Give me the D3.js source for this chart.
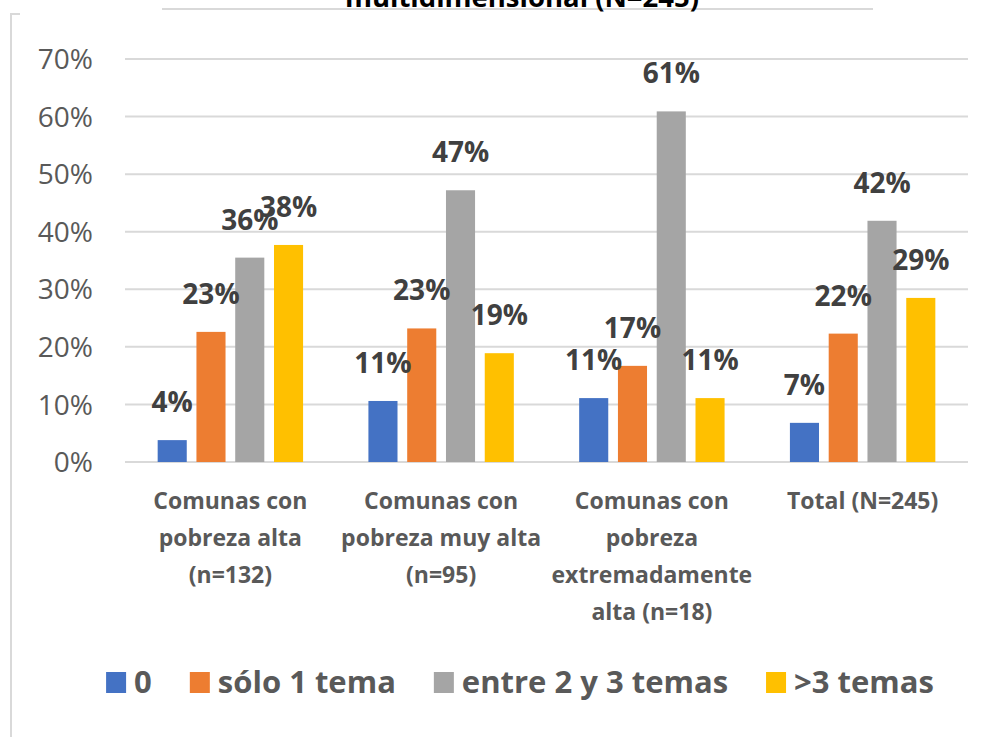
<!DOCTYPE html>
<html>
<head>
<meta charset="utf-8">
<script src="https://cdn.jsdelivr.net/npm/d3@7"></script>
<style>
    body { margin: 0; background: #fff; }
    svg { display: block; font-family: "Open Sans", sans-serif; }
    .grid line { stroke: #d9d9d9; stroke-width: 2; }
    .tick-label { fill: #595959; font-size: 28px; }
    .data-label { fill: #404040; font-size: 28px; font-weight: bold; }
    .cat-label { fill: #595959; font-size: 23px; font-weight: bold; }
    .legend-text { fill: #595959; font-size: 31px; font-weight: bold; }
</style>
</head>
<body>
<svg id="chart" width="1000" height="737"></svg>
<script>
// data
const categories = [
    ["Comunas con", "pobreza alta", "(n=132)"],
    ["Comunas con", "pobreza muy alta", "(n=95)"],
    ["Comunas con", "pobreza", "extremadamente", "alta (n=18)"],
    ["Total (N=245)"]
];
const seriesNames = ["0", "sólo 1 tema", "entre 2 y 3 temas", ">3 temas"];
const seriesColors = ["#4472C4", "#ED7D31", "#A5A5A5", "#FFC000"];
const values0 = [3.8, 10.6, 11.1, 6.8];
const values1 = [22.6, 23.2, 16.7, 22.3];
const values2 = [35.5, 47.2, 60.9, 41.9];
const values3 = [37.7, 18.9, 11.1, 28.5];
const yTicks = [0, 10, 20, 30, 40, 50, 60, 70];

const allValues = [values0, values1, values2, values3];

const svg = d3.select("#chart");

// frame bits and clipped title at the top
svg.append("path")
    .attr("d", "M20,14H11V737")
    .attr("fill", "none")
    .attr("stroke", "#d9d9d9")
    .attr("stroke-width", 2);

svg.append("line")
    .attr("x1", 162).attr("x2", 873)
    .attr("y1", 9).attr("y2", 9)
    .attr("stroke", "#d9d9d9")
    .attr("stroke-width", 2);

svg.append("text")
    .attr("x", 522)
    .attr("y", 7)
    .attr("text-anchor", "middle")
    .attr("font-size", 27.5)
    .attr("font-weight", "bold")
    .attr("fill", "#000")
    .text("multidimensional (N=245)");

// scales
const x0 = d3.scaleBand()
    .domain(d3.range(categories.length))
    .range([125, 968])
    .paddingInner(0.31)
    .paddingOuter(0.155);

const x1 = d3.scaleBand()
    .domain(d3.range(seriesNames.length))
    .range([0, x0.bandwidth()])
    .paddingInner(0.25);

const y = d3.scaleLinear()
    .domain([0, 70])
    .range([462, 59]);

// gridlines
svg.append("g")
    .attr("class", "grid")
    .selectAll("line")
    .data(yTicks)
    .enter().append("line")
    .attr("x1", 125)
    .attr("x2", 968)
    .attr("y1", d => y(d))
    .attr("y2", d => y(d));

// y tick labels
svg.selectAll(".tick-label")
    .data(yTicks)
    .enter().append("text")
    .attr("class", "tick-label")
    .attr("x", 93)
    .attr("y", d => y(d))
    .attr("dy", "0.36em")
    .attr("text-anchor", "end")
    .text(d => d + "%");

// bars
const bars = [];
allValues.forEach((vals, s) => {
    vals.forEach((v, c) => bars.push({ s: s, c: c, v: v }));
});

svg.append("g")
    .selectAll("rect")
    .data(bars)
    .enter().append("rect")
    .attr("x", d => x0(d.c) + x1(d.s))
    .attr("y", d => y(d.v))
    .attr("width", x1.bandwidth())
    .attr("height", d => y(0) - y(d.v))
    .attr("fill", d => seriesColors[d.s]);

// data labels
svg.selectAll(".data-label")
    .data(bars)
    .enter().append("text")
    .attr("class", "data-label")
    .attr("x", d => x0(d.c) + x1(d.s) + x1.bandwidth() / 2)
    .attr("y", d => y(d.v) - 28)
    .attr("text-anchor", "middle")
    .text(d => Math.round(d.v) + "%");

// category labels
const catG = svg.selectAll(".cat-label")
    .data(categories)
    .enter().append("text")
    .attr("class", "cat-label")
    .attr("text-anchor", "middle")
    .attr("x", (d, i) => x0(i) + x0.bandwidth() / 2)
    .attr("y", 509);

catG.selectAll("tspan")
    .data(d => d)
    .enter().append("tspan")
    .attr("x", function () { return this.parentNode.getAttribute("x"); })
    .attr("dy", (d, i) => i === 0 ? 0 : 37)
    .text(d => d);

// legend
const legend = svg.append("g");
const gap = 38;
let lx = 0;
seriesNames.forEach((name, i) => {
    const item = legend.append("g").attr("transform", `translate(${lx},0)`);
    item.append("rect")
        .attr("x", 0)
        .attr("y", -21)
        .attr("width", 20)
        .attr("height", 21)
        .attr("fill", seriesColors[i]);
    const t = item.append("text")
        .attr("class", "legend-text")
        .attr("x", 28)
        .attr("y", 0)
        .text(name);
    lx += 28 + t.node().getComputedTextLength() + gap;
});
const legendWidth = lx - gap;
legend.attr("transform", `translate(${520 - legendWidth / 2},693)`);
</script>
</body>
</html>
